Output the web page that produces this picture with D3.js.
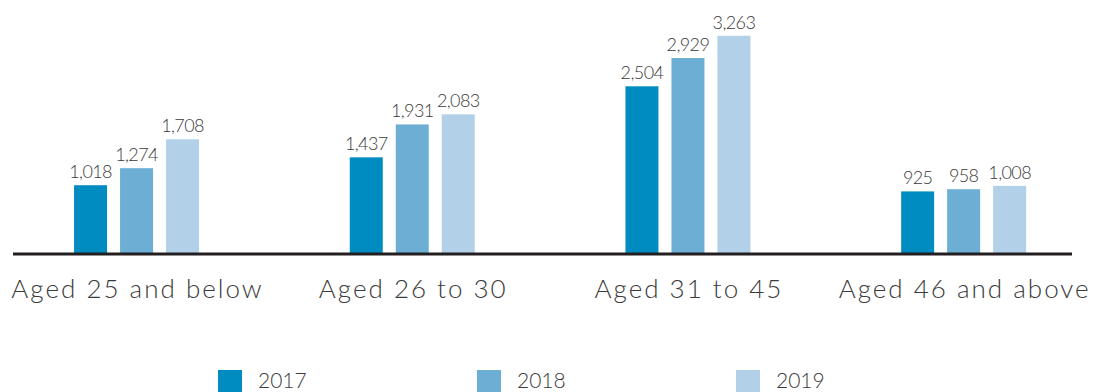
<!DOCTYPE html>
<html><head><meta charset="utf-8">
<script src="https://cdn.jsdelivr.net/npm/d3@7"></script>
<style>body{margin:0;background:#fff}svg{display:block}text{font-family:Lato,"Open Sans",sans-serif;font-weight:300;fill:#3a3a3a}</style>
</head><body>
<svg id="c" width="1094" height="392"></svg>
<script>
const categories = ["Aged 25 and below", "Aged 26 to 30", "Aged 31 to 45", "Aged 46 and above"];
const seriesNames = ["2017", "2018", "2019"];
const values2017 = [1018, 1437, 2504, 925];
const values2018 = [1274, 1931, 2929, 958];
const values2019 = [1708, 2083, 3263, 1008];
const colors = ["#008cc1", "#6daed5", "#b2d1e8"];

const seriesValues = [values2017, values2018, values2019];
const svg = d3.select("#c");
const baseY = 253;
const x = d3.scaleBand().domain(categories).range([-1.3, 1101.5]).paddingInner(0).paddingOuter(0);
const xs = d3.scaleBand().domain(seriesNames).range([0, 125]).paddingInner(13/46).paddingOuter(0);
const y = d3.scaleLinear().domain([0, 3800]).range([baseY, 0]);

const groups = svg.selectAll("g.grp").data(categories).join("g")
  .attr("transform", d => `translate(${x(d) + x.bandwidth()/2 - 62.5},0)`);

seriesNames.forEach((s, si) => {
  groups.append("rect")
    .attr("x", xs(s))
    .attr("width", xs.bandwidth())
    .attr("y", (d, i) => y(seriesValues[si][i]))
    .attr("height", (d, i) => baseY - y(seriesValues[si][i]))
    .attr("fill", colors[si]);
  groups.append("text")
    .attr("x", xs(s) + xs.bandwidth()/2)
    .attr("y", (d, i) => y(seriesValues[si][i]) - 7)
    .attr("text-anchor", "middle")
    .attr("font-size", 18)
    .attr("letter-spacing", -0.6)
    .text((d, i) => d3.format(",")(seriesValues[si][i]));
});

svg.append("line").attr("x1", 13).attr("x2", 1072).attr("y1", baseY + 1).attr("y2", baseY + 1)
  .attr("stroke", "#231f20").attr("stroke-width", 3);

svg.selectAll("text.cat").data(categories).join("text")
  .attr("class", "cat")
  .attr("x", d => x(d) + x.bandwidth()/2 + 1)
  .attr("y", 298)
  .attr("text-anchor", "middle")
  .attr("font-size", 26)
  .attr("letter-spacing", 2)
  .text(d => d);

const lx = d3.scalePoint().domain(seriesNames).range([218, 736]);
const leg = svg.selectAll("g.leg").data(seriesNames).join("g")
  .attr("transform", d => `translate(${lx(d)},0)`);
leg.append("rect").attr("x", 0).attr("y", 370).attr("width", 24).attr("height", 24)
  .attr("fill", (d, i) => colors[i]);
leg.append("text").attr("x", 40).attr("y", 388).attr("font-size", 21).text(d => d);
</script>
</body></html>
